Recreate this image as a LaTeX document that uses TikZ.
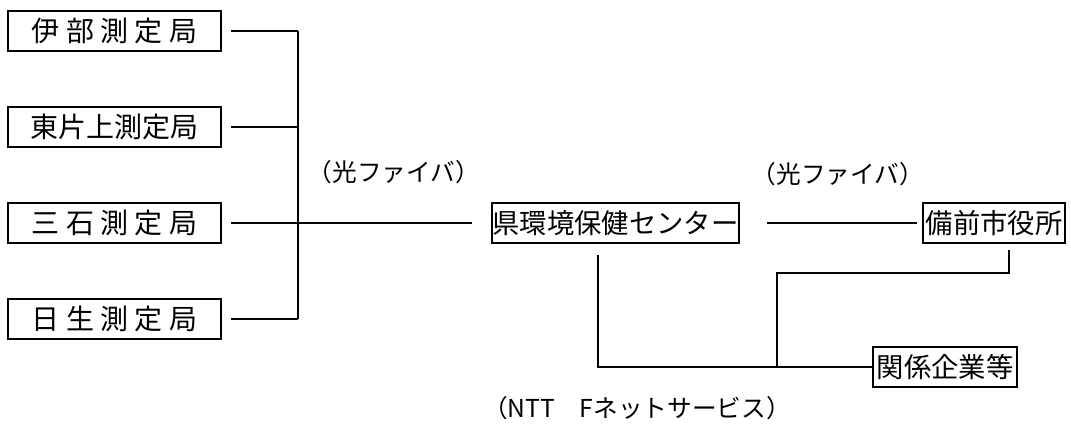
\documentclass[tikz,border=0pt]{standalone}
\usepackage{fontspec}
\setmainfont{Noto Sans CJK JP}

\begin{document}
\begin{tikzpicture}[x=0.75pt,y=-0.75pt]
\tikzset{kyoku/.style = {draw, line width=1.1pt, inner sep=0pt, minimum height=30pt, font=\fontsize{21}{21}\selectfont}}
\tikzset{sen/.style = {line width=1pt}}
\tikzset{chu/.style = {font=\fontsize{18.5}{18.5}\selectfont}}
\useasboundingbox (0,0) rectangle (1071,428); % khung
% cac tram do
\node[kyoku, minimum width=159.75pt] (ibu) at (114.5,31) {伊 部 測 定 局};
\node[kyoku, minimum width=159.75pt] (higashi) at (114.5,127) {東片上測定局};
\node[kyoku, minimum width=159.75pt] (mitsuishi) at (114.5,223) {三 石 測 定 局};
\node[kyoku, minimum width=159.75pt] (hinase) at (114.5,319) {日 生 測 定 局};
% trung tam
\node[kyoku, minimum width=185.25pt, font=\fontsize{20.5}{20.5}\selectfont] (center) at (615.5,223) {県環境保健センター};
\node[kyoku, minimum width=106.5pt, font=\fontsize{20.5}{20.5}\selectfont] (bizen) at (994,223) {備前市役所};
\node[kyoku, minimum width=108pt, font=\fontsize{20.5}{20.5}\selectfont] (kankei) at (945,367) {関係企業等};
% nhan
\node[chu] (hikari1) at (394,172) {（光ファイバ）};
\node[chu] (hikari2) at (838,174) {（光ファイバ）};
\node[chu] (ntt) at (637,408) {（NTT　Fネットサービス）};
% duong noi
\coordinate (bus) at (298,0);
\foreach \n in {ibu,higashi,hinase}
  \draw[sen] ([xshift=6.75pt]\n.east) -- (\n.east -| bus);
\draw[sen] (ibu.east -| bus) -- (hinase.east -| bus);
\draw[sen] ([xshift=6.75pt]mitsuishi.east) -- ([xshift=-14.25pt]center.west);
\draw[sen] ([xshift=20.25pt]center.east) -- ([xshift=-3.75pt]bizen.west);
\coordinate (dn) at (598,255);
\coordinate (junc) at (777,367);
\coordinate (up) at (1009,250);
\draw[sen] (dn) |- (kankei.west);
\draw[sen] (junc) -- (777,273) -| (up);
\end{tikzpicture}
\end{document}
